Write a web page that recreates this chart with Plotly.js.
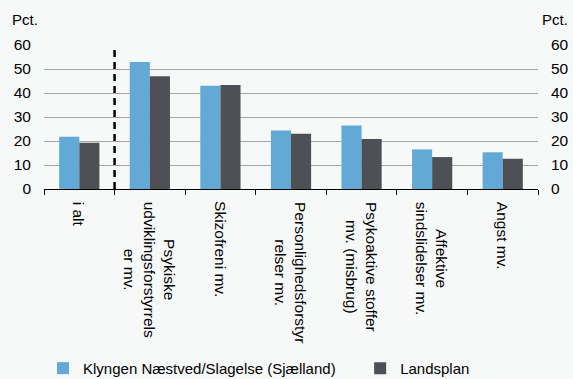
<!DOCTYPE html>
<html><head><meta charset="utf-8">
<script src="https://cdn.plot.ly/plotly-3.0.1.min.js"></script>
<style>body{margin:0;background:#f7f9f9}</style>
</head><body>
<div id="chart" style="width:573px;height:379px"></div>
<script>
const categories = ["i alt", "Psykiske udviklingsforstyrrelser mv.", "Skizofreni mv.", "Personlighedsforstyrrelser mv.", "Psykoaktive stoffer mv. (misbrug)", "Affektive sindslidelser mv.", "Angst mv."];
const categoryLabels = ["i alt", "Psykiske<br>udviklingsforstyrrels<br>er mv.", "Skizofreni mv.", "Personlighedsforstyr<br>relser mv.", "Psykoaktive stoffer<br>mv. (misbrug)", "Affektive<br>sindslidelser mv.", "Angst mv."];
const seriesNames = ["Klyngen Næstved/Slagelse (Sjælland)", "Landsplan"];
const klyngen = [21.8, 52.9, 43.0, 24.4, 26.5, 16.5, 15.3];
const landsplan = [19.3, 47.0, 43.3, 23.0, 20.8, 13.3, 12.6];
const yTicks = [0, 10, 20, 30, 40, 50, 60];

const font = {family: "Liberation Sans, Arial, sans-serif", size: 15.5, color: "#000"};
const traces = [
  {type: "bar", name: seriesNames[0], x: categories, y: klyngen, marker: {color: "#63a9d6"}, hoverinfo: "skip", legend: "legend"},
  {type: "bar", name: seriesNames[1], x: categories, y: landsplan, marker: {color: "#4e5055"}, hoverinfo: "skip", legend: "legend2"},
  {type: "scatter", mode: "none", x: categories, y: klyngen, yaxis: "y2", showlegend: false, hoverinfo: "skip"}
];
const yaxisBase = {range: [0, 60], tickvals: yTicks, ticktext: yTicks.map(String), showgrid: true, gridcolor: "#a6a6a6", gridwidth: 1, zeroline: false, showline: false, ticks: "", tickfont: {size: 15.5}, fixedrange: true};
const legendBase = {orientation: "h", xref: "paper", yref: "container", y: 0.028, yanchor: "middle", xanchor: "left", bgcolor: "rgba(0,0,0,0)", font: {size: 15}, itemwidth: 30};
const labelAnnotations = categories.map((c, i) => ({
  text: categoryLabels[i], x: c, xref: "x", yref: "paper", y: -0.073, xanchor: "center", yanchor: "top",
  textangle: 90, align: "center", showarrow: false, font: {size: 15.5}
}));
const layout = {
  width: 573, height: 379,
  margin: {l: 44, r: 35, t: 45, b: 190},
  paper_bgcolor: "#f7f9f9", plot_bgcolor: "#f7f9f9",
  font: font,
  barmode: "group", bargap: 0.43, bargroupgap: 0,
  showlegend: true,
  legend: Object.assign({}, legendBase, {x: -0.002}),
  legend2: Object.assign({}, legendBase, {x: 0.64}),
  xaxis: {type: "category", showticklabels: false, tickson: "boundaries", ticks: "outside", ticklen: 5, tickcolor: "#000", showline: true, linecolor: "#000", linewidth: 1.3, fixedrange: true},
  yaxis: Object.assign({}, yaxisBase, {ticklabelstandoff: 12}),
  yaxis2: Object.assign({}, yaxisBase, {overlaying: "y", side: "right", showgrid: false, ticklabelstandoff: 12}),
  shapes: [{type: "line", xref: "x", yref: "y", x0: 0.5, x1: 0.5, y0: 0, y1: 58.3, line: {color: "#000", width: 2.5, dash: "7px,5px"}}],
  annotations: labelAnnotations.concat([
    {text: "Pct.", xref: "paper", yref: "paper", x: -0.069, y: 1.18, xanchor: "left", yanchor: "middle", showarrow: false, font: {size: 15}},
    {text: "Pct.", xref: "paper", yref: "paper", x: 1.065, y: 1.18, xanchor: "right", yanchor: "middle", showarrow: false, font: {size: 15}}
  ])
};
Plotly.newPlot("chart", traces, layout, {staticPlot: true});
</script>
</body></html>
